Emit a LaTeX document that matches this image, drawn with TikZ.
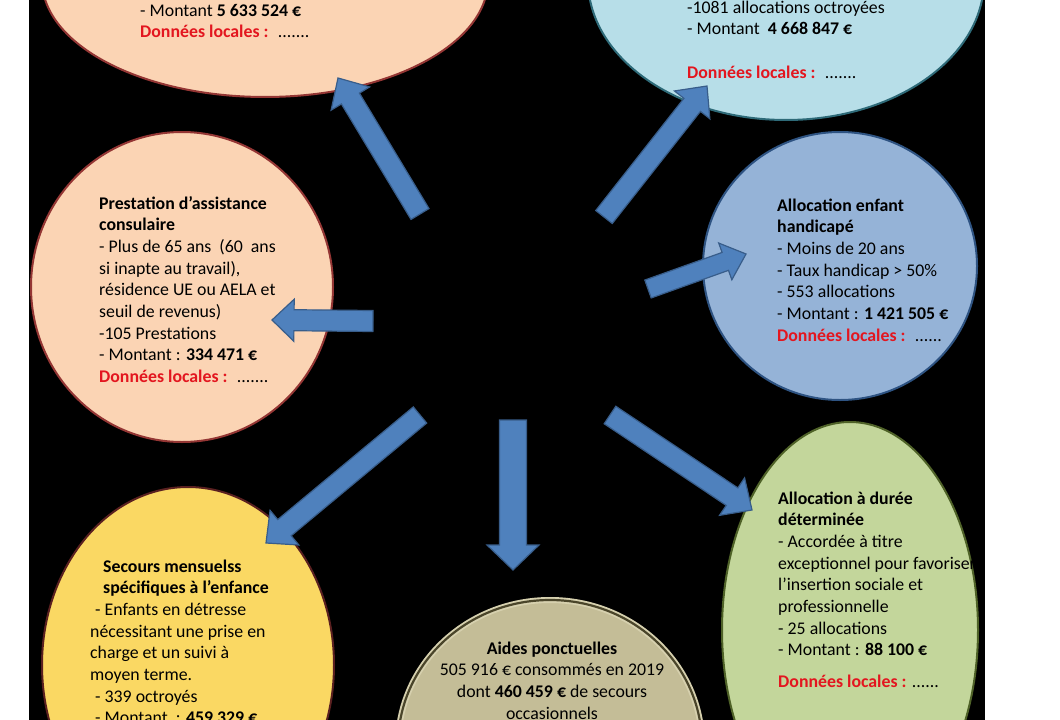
\documentclass[tikz,border=0pt]{standalone}
\usepackage{fontspec}
\setmainfont{Carlito}
\usetikzlibrary{shapes.geometric,calc}
\definecolor{peach}{HTML}{FBD4B4}
\definecolor{peachline}{HTML}{943634}
\definecolor{skyblue}{HTML}{B7DEE8}
\definecolor{skyline}{HTML}{2E6A78}
\definecolor{midblue}{HTML}{95B3D7}
\definecolor{midline}{HTML}{2E5382}
\definecolor{sun}{HTML}{FAD863}
\definecolor{sunline}{HTML}{5A2020}
\definecolor{tan}{HTML}{C4BD97}
\definecolor{tanrim}{HTML}{D6D0AE}
\definecolor{tanline}{HTML}{4A452A}
\definecolor{leaf}{HTML}{C3D69B}
\definecolor{leafline}{HTML}{4F6228}
\definecolor{arrowblue}{HTML}{4F81BD}
\definecolor{arrowline}{HTML}{385D8A}
\definecolor{dlred}{HTML}{E3161F}
\tikzset{blob/.style={ellipse,line width=2pt,inner sep=0pt},
  txt/.style={align=left,anchor=base west,inner sep=0pt,font=\fontsize{17.8}{21.7}\selectfont},
  barrow/.style={fill=arrowblue,draw=arrowline,line width=1.2pt,line join=miter}}
\newcommand\dl{\textcolor{dlred}{\textbf{Données locales :}}}

\begin{document}
\begin{tikzpicture}[x=1pt,y=-1pt]
\useasboundingbox (0,0) rectangle (1060,720);
\fill[white] (0,0) rectangle (1060,720);
\fill[black] (29,0) rectangle (985,720);
\node (tl) at (265,-20) [blob,fill=peach,draw=peachline,minimum width=446pt,minimum height=234pt] {};
\node (tr) at (786,-20) [blob,fill=skyblue,draw=skyline,minimum width=396pt,minimum height=280pt] {};
\node (pr) at (182,287) [blob,fill=peach,draw=peachline,minimum width=302pt,minimum height=310pt] {};
\node (ae) at (840,266) [blob,fill=midblue,draw=midline,minimum width=274pt,minimum height=268pt] {};
\node (sm) at (188,665) [blob,fill=sun,draw=sunline,minimum width=292pt,minimum height=356pt] {};
\node (ap) at (550,745) [blob,fill=tan,draw=tanrim,line width=6pt,minimum width=304pt,minimum height=290pt,
  postaction={draw=tanline,line width=2.2pt}] {};
\node (ad) at (850,630) [blob,fill=leaf,draw=leafline,minimum width=256pt,minimum height=416pt] {};
\coordinate (tlA) at (420,214); \coordinate (tlB) at (338,78);
\coordinate (trA) at (604,217); \coordinate (trB) at (707,86);
\coordinate (prA) at (373,321); \coordinate (prB) at (272,320);
\coordinate (aeA) at (648,289); \coordinate (aeB) at (746,254);
\coordinate (smA) at (420,415); \coordinate (smB) at (266,543);
\coordinate (apA) at (513,420); \coordinate (apB) at (513,570);
\coordinate (adA) at (610,415); \coordinate (adB) at (752,510);
\foreach \a/\b/\s/\h/\l in {tlA/tlB/10.5/22.5/24,trA/trB/10.5/22.5/24,prA/prB/10.5/21/22,aeA/aeB/9.5/19.5/22,
    smA/smB/10.5/22.5/24,apA/apB/13.5/26/25,adA/adB/10.5/22.5/24}{
  \coordinate (m) at ($(\b)!\l pt!(\a)$);
  \draw[barrow] ($(\a)!\s pt!90:(\b)$) -- ($(m)!\s pt!90:(\b)$) -- ($(m)!\h pt!90:(\b)$) -- (\b)
    -- ($(m)!\h pt!-90:(\b)$) -- ($(m)!\s pt!-90:(\b)$) -- ($(\a)!\s pt!-90:(\b)$) -- cycle;
}
\node (tltext) at (140,37.7) [txt] {- Montant \textbf{5 633 524 €}\\\dl{} \ .......};
\node (trtext) at (687,78.1) [txt] {-1081 allocations octroyées\\- Montant \ \textbf{4 668 847 €}\\[21.7pt]\dl{} \ .......};
\node (prtext) at (99,382.6) [txt] {\textbf{Prestation d’assistance}\\\textbf{consulaire}\\- Plus de 65 ans \ (60 \ ans\\si inapte au travail),\\résidence UE ou AELA et\\seuil de revenus)\\-105 Prestations\\- Montant : \textbf{334 471 €}\\\dl{} \ .......};
\node (aetext) at (777,341.2) [txt] {\textbf{Allocation enfant}\\\textbf{handicapé}\\- Moins de 20 ans\\- Taux handicap > 50\%\\- 553 allocations\\- Montant : \textbf{1 421 505 €}\\\dl{} \ ......};
\node (smtext) at (90,723.9) [txt] {\hspace*{13pt}\textbf{Secours mensuelss}\\\hspace*{13pt}\textbf{spécifiques à l’enfance}\\\hspace*{5pt}- Enfants en détresse\\nécessitant une prise en\\charge et un suivi à\\moyen terme.\\\hspace*{5pt}- 339 octroyés\\\hspace*{5pt}- Montant \ : \textbf{459 329 €}};
\node (aptext) at (552,719.1) [txt,align=center,anchor=base] {\textbf{Aides ponctuelles}\\505 916 € consommés en 2019\\dont \textbf{460 459 €} de secours\\occasionnels};
\node (adtext) at (778,687.6) [txt] {\textbf{Allocation à durée}\\\textbf{déterminée}\\- Accordée à titre\\exceptionnel pour favoriser\\l’insertion sociale et\\professionnelle\\- 25 allocations\\- Montant : \textbf{88 100 €}\\[10pt]\dl{} ......};
\end{tikzpicture}
\end{document}
